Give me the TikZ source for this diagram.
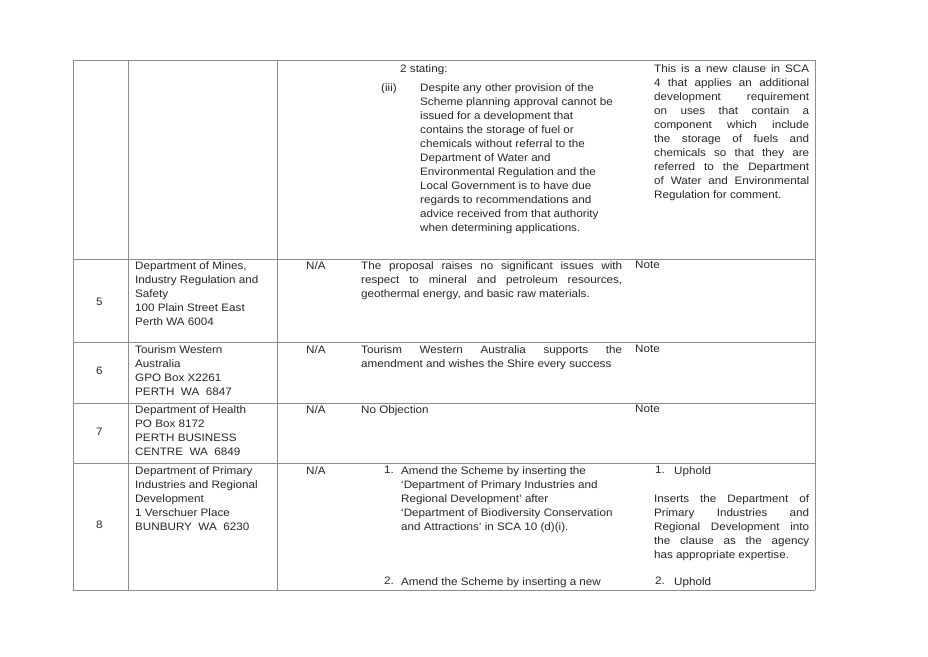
\documentclass[tikz,border=0pt]{standalone}
\usepackage{fontspec}
\setmainfont{Liberation Sans}[FakeStretch=1.08]
\newcommand\jl[2]{\makebox[#1][s]{#2}}
\begin{document}
\begin{tikzpicture}[x=1pt,y=-1pt,
  grid/.style={draw=black!45,line width=0.9pt},
  txt/.style={anchor=north west,inner sep=0pt,align=left,font=\fontsize{10.8}{14}\selectfont,text=black!85}]
\useasboundingbox (0,0) rectangle (928,656);
% grid
\foreach \y in {60,259,342,403,463,590} \draw[grid] (73,\y) -- (815,\y);
\foreach \x in {73,128,277,815} \draw[grid] (\x,60) -- (\x,590);
% row 1
\node[txt] (r1a) at (400,64) {2 stating:};
\node[txt] (r1b) at (381,83) {(iii)};
\node[txt] (r1c) at (420,83) {Despite any other provision of the\\Scheme planning approval cannot be\\issued for a development that\\contains the storage of fuel or\\chemicals without referral to the\\Department of Water and\\Environmental Regulation and the\\Local Government is to have due\\regards to recommendations and\\advice received from that authority\\when determining applications.};
\node[txt] (r1d) at (654,64) {\jl{155pt}{This is a new clause in SCA}\\\jl{155pt}{4 that applies an additional}\\\jl{155pt}{development requirement}\\\jl{155pt}{on uses that contain a}\\\jl{155pt}{component which include}\\\jl{155pt}{the storage of fuels and}\\\jl{155pt}{chemicals so that they are}\\\jl{155pt}{referred to the Department}\\\jl{155pt}{of Water and Environmental}\\Regulation for comment.};
% row 5
\node[txt] (n5) at (96,298) {5};
\node[txt] (a5) at (135,261) {Department of Mines,\\Industry Regulation and\\Safety\\100 Plain Street East\\Perth WA 6004};
\node[txt] (na5) at (306,261) {N/A};
\node[txt] (c5) at (361,261) {\jl{261pt}{The proposal raises no significant issues with}\\\jl{261pt}{respect to mineral and petroleum resources,}\\geothermal energy, and basic raw materials.};
\node[txt] (d5) at (635,261) {Note};
% row 6
\node[txt] (n6) at (96,367) {6};
\node[txt] (a6) at (135,345) {Tourism Western\\Australia\\GPO Box X2261\\PERTH\ \ WA\ \ 6847};
\node[txt] (na6) at (306,345) {N/A};
\node[txt] (c6) at (361,345) {\jl{261pt}{Tourism Western Australia supports the}\\amendment and wishes the Shire every success};
\node[txt] (d6) at (635,345) {Note};
% row 7
\node[txt] (n7) at (96,428) {7};
\node[txt] (a7) at (135,405) {Department of Health\\PO Box 8172\\PERTH BUSINESS\\CENTRE\ \ WA\ \ 6849};
\node[txt] (na7) at (306,405) {N/A};
\node[txt] (c7) at (361,405) {No Objection};
\node[txt] (d7) at (635,405) {Note};
% row 8
\node[txt] (n8) at (96,521) {8};
\node[txt] (a8) at (135,466) {Department of Primary\\Industries and Regional\\Development\\1 Verschuer Place\\BUNBURY\ \ WA\ \ 6230};
\node[txt] (na8) at (306,466) {N/A};
\node[txt] (c8a) at (384,466) {1.};
\node[txt] (c8b) at (401,466) {Amend the Scheme by inserting the\\`Department of Primary Industries and\\Regional Development' after\\`Department of Biodiversity Conservation\\and Attractions' in SCA 10 (d)(i).};
\node[txt] (c8c) at (384,577) {2.};
\node[txt] (c8d) at (401,577) {Amend the Scheme by inserting a new};
\node[txt] (d8a) at (655,466) {1.};
\node[txt] (d8b) at (674,466) {Uphold};
\node[txt] (d8c) at (654,494) {\jl{155pt}{Inserts the Department of}\\\jl{155pt}{Primary Industries and}\\\jl{155pt}{Regional Development into}\\\jl{155pt}{the clause as the agency}\\has appropriate expertise.};
\node[txt] (d8d) at (655,577) {2.};
\node[txt] (d8e) at (674,577) {Uphold};
\end{tikzpicture}
\end{document}
